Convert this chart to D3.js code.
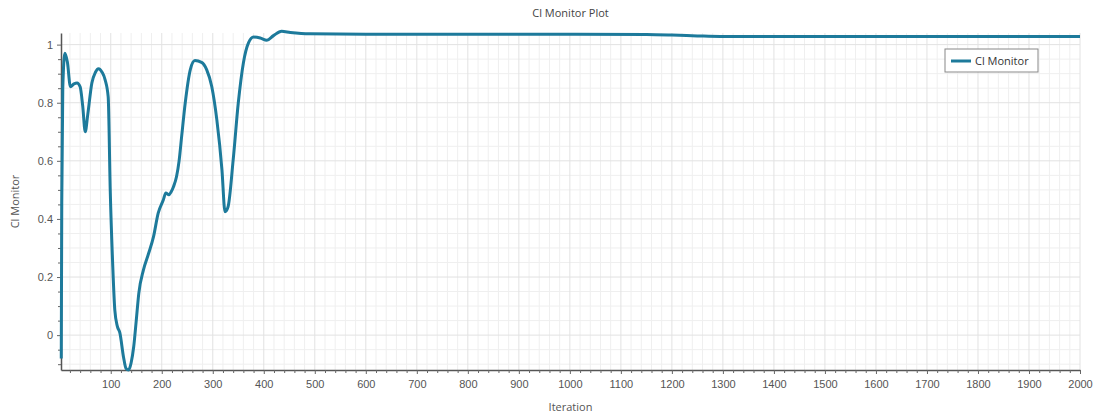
<!DOCTYPE html>
<html lang="en">
<head>
  <meta charset="utf-8">
  <title>Cl Monitor Plot</title>
  <script src="https://d3js.org/d3.v7.min.js"></script>
  <style>
    body { margin: 0; background: #fff; }
    svg { font-family: "Open Sans", sans-serif; }
    .tick-label { font-size: 11px; fill: #555; }
    .axis-title { font-size: 11px; fill: #555; }
  </style>
</head>
<body>
  <div id="chart"></div>
  <script>
    var width = 1097, height = 417;
    var margin = {top: 33, right: 17, bottom: 47, left: 61};

    // series
    var iterations = [3, 4, 6, 10, 15, 21, 28, 34, 40, 45, 50, 55, 63, 70, 76, 83, 89, 95, 99, 104,
      108, 113, 118, 125, 130, 135, 140, 145, 150, 155, 164, 174, 184, 193, 203, 208, 214, 218, 223,
      229, 234, 239, 246, 256, 265, 278, 288, 298, 308, 318, 324, 330, 340, 350, 360, 370, 380, 393,
      406, 419, 435, 452, 491, 600, 800, 1000, 1150, 1200, 1250, 1295, 1400, 1600, 1800, 2000];
    var clValues = [-0.08, 0.45, 0.85, 0.97, 0.94, 0.855, 0.865, 0.868, 0.855, 0.79, 0.7, 0.76, 0.868,
      0.905, 0.917, 0.905, 0.879, 0.82, 0.5, 0.236, 0.086, 0.03, 0.007, -0.075, -0.115, -0.12, -0.095,
      -0.04, 0.05, 0.144, 0.224, 0.28, 0.34, 0.42, 0.465, 0.489, 0.483, 0.492, 0.511, 0.546, 0.6, 0.684,
      0.799, 0.914, 0.945, 0.939, 0.914, 0.856, 0.741, 0.569, 0.425, 0.442, 0.603, 0.799, 0.937, 1.006,
      1.026, 1.023, 1.015, 1.031, 1.046, 1.042, 1.037, 1.036, 1.036, 1.036, 1.035, 1.033, 1.03, 1.028,
      1.028, 1.028, 1.028, 1.028];

    // ticks
    var xTicks = [100, 200, 300, 400, 500, 600, 700, 800, 900, 1000, 1100, 1200, 1300, 1400, 1500,
      1600, 1700, 1800, 1900, 2000];
    var xTickLabels = xTicks.map(String);
    var yTicks = [0, 0.2, 0.4, 0.6, 0.8, 1];
    var yTickLabels = ["0", "0.2", "0.4", "0.6", "0.8", "1"];

    var data = iterations.map((d, i) => ({x: d, y: clValues[i]}));

    var x = d3.scaleLinear().domain([2.5, 2000]).range([margin.left, width - margin.right]);
    var y = d3.scaleLinear().domain([-0.12, 1.04]).range([height - margin.bottom, margin.top]);

    var xMinor = d3.range(20, 2001, 20).filter(d => d % 100 !== 0);
    var yMinor = d3.range(-2, 21).map(d => +(d * 0.05).toFixed(2)).filter(d => Math.abs(d * 5 - Math.round(d * 5)) > 1e-6);

    var svg = d3.select("#chart").append("svg")
      .attr("width", width)
      .attr("height", height);

    var x0 = margin.left, x1 = width - margin.right;
    var y0 = height - margin.bottom, y1 = margin.top;

    // grid
    var grid = svg.append("g");
    grid.selectAll(".vminor").data(xMinor).enter().append("line")
      .attr("x1", d => x(d)).attr("x2", d => x(d)).attr("y1", y0).attr("y2", y1)
      .attr("stroke", "#efefef");
    grid.selectAll(".hminor").data(yMinor).enter().append("line")
      .attr("x1", x0).attr("x2", x1).attr("y1", d => y(d)).attr("y2", d => y(d))
      .attr("stroke", "#efefef");
    grid.selectAll(".vmajor").data(xTicks).enter().append("line")
      .attr("x1", d => x(d)).attr("x2", d => x(d)).attr("y1", y0).attr("y2", y1)
      .attr("stroke", "#e2e2e2");
    grid.selectAll(".hmajor").data(yTicks).enter().append("line")
      .attr("x1", x0).attr("x2", x1).attr("y1", d => y(d)).attr("y2", d => y(d))
      .attr("stroke", "#e2e2e2");

    // axes
    var xAxis = svg.append("g").attr("transform", `translate(0,${y0})`)
      .call(d3.axisBottom(x).tickValues(xTicks).tickSize(4).tickSizeOuter(0)
        .tickFormat((d, i) => xTickLabels[i]));
    svg.append("g").attr("transform", `translate(0,${y0})`)
      .call(d3.axisBottom(x).tickValues(xMinor).tickSize(3).tickFormat(""))
      .call(g => g.select(".domain").remove());
    var yAxis = svg.append("g").attr("transform", `translate(${x0},0)`)
      .call(d3.axisLeft(y).tickValues(yTicks).tickSize(4).tickSizeOuter(0)
        .tickFormat((d, i) => yTickLabels[i]));
    svg.append("g").attr("transform", `translate(${x0},0)`)
      .call(d3.axisLeft(y).tickValues(yMinor).tickSize(3).tickFormat(""))
      .call(g => g.select(".domain").remove());

    svg.selectAll(".domain").attr("stroke", "#555").attr("stroke-width", 1.5);
    svg.selectAll(".tick line").attr("stroke", "#666");
    svg.selectAll(".tick text").attr("class", "tick-label").attr("font-family", null).attr("font-size", null);
    xAxis.selectAll("text").attr("dy", "1.0em");
    yAxis.selectAll("text").attr("x", -8);

    // line
    var line = d3.line()
      .x(d => x(d.x))
      .y(d => y(d.y))
      .curve(d3.curveMonotoneX);

    svg.append("path")
      .datum(data)
      .attr("fill", "none")
      .attr("stroke", "#1d7a9b")
      .attr("stroke-width", 3)
      .attr("stroke-linejoin", "round")
      .attr("d", line);

    // titles
    svg.append("text")
      .attr("x", (x0 + x1) / 2).attr("y", 17)
      .attr("text-anchor", "middle")
      .attr("class", "axis-title")
      .style("fill", "#444")
      .text("Cl Monitor Plot");

    svg.append("text")
      .attr("x", (x0 + x1) / 2).attr("y", 411)
      .attr("text-anchor", "middle")
      .attr("class", "axis-title")
      .text("Iteration");

    svg.append("text")
      .attr("transform", `translate(19,${(y0 + y1) / 2}) rotate(-90)`)
      .attr("text-anchor", "middle")
      .attr("class", "axis-title")
      .text("Cl Monitor");

    // legend
    var legend = svg.append("g").attr("transform", "translate(945,49)");
    legend.append("rect")
      .attr("width", 93).attr("height", 23)
      .attr("fill", "#fff").attr("stroke", "#888");
    legend.append("line")
      .attr("x1", 6).attr("x2", 26).attr("y1", 12).attr("y2", 12)
      .attr("stroke", "#1d7a9b").attr("stroke-width", 3);
    legend.append("text")
      .attr("x", 30).attr("y", 16)
      .style("font-size", "11px").style("fill", "#333")
      .text("Cl Monitor");
  </script>
</body>
</html>
